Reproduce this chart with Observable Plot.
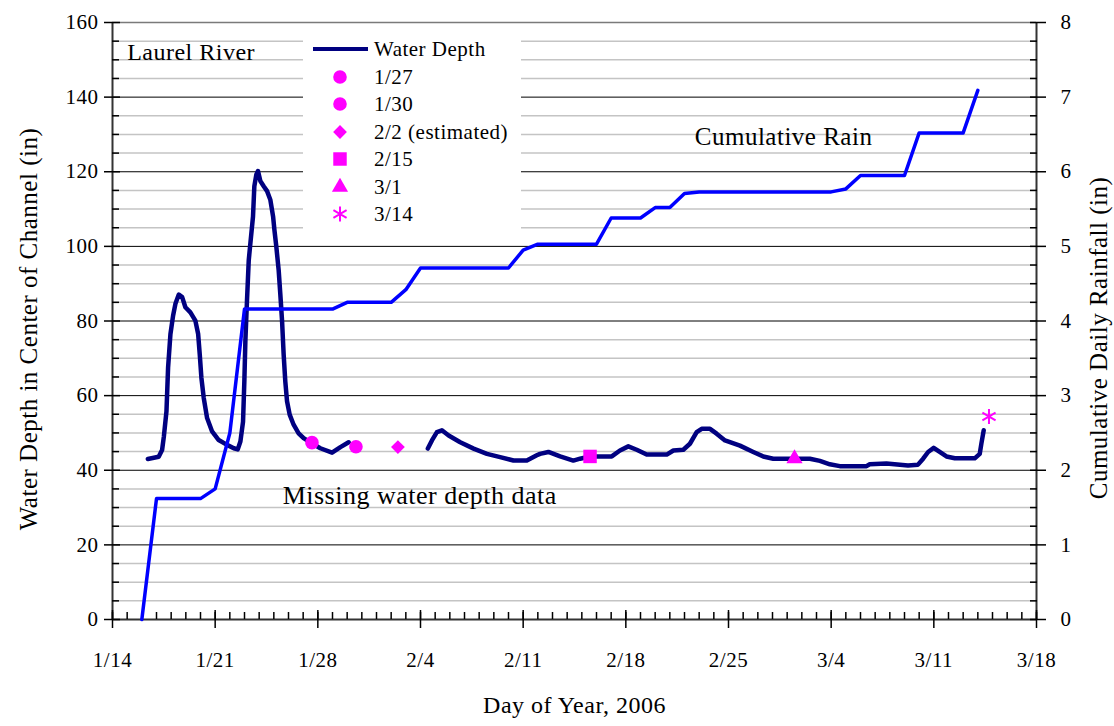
<!DOCTYPE html>
<html><head><meta charset="utf-8">
<script src="https://cdn.jsdelivr.net/npm/d3@7"></script>
<script src="https://cdn.jsdelivr.net/npm/@observablehq/plot@0.6"></script>
<style>
body{margin:0;background:#fff;}
#wrap{position:relative;width:1114px;height:726px;overflow:hidden;}
#legend{position:absolute;left:303px;top:27px;width:218px;height:208px;background:#fff;font-family:"Liberation Serif",serif;letter-spacing:0.5px;}
#legend .row{position:absolute;left:0;height:28px;width:218px;}
#legend .row svg{position:absolute;left:0;top:0;}
#legend .row span{position:absolute;left:71px;top:0;line-height:28px;font-size:21px;color:#000;white-space:nowrap;}
</style></head><body><div id="wrap"><div id="legend"></div></div>
<script>
// ---------- data (days counted from 1/14/2006) ----------
const depthDay = [2.41,3.15,3.38,3.5,3.68,3.79,3.95,4.13,4.29,4.52,4.75,4.97,5.31,5.65,5.84,5.95,6.06,6.22,6.45,6.79,7.24,7.81,8.27,8.54,8.72,8.9,8.99,9.06,9.17,9.29,9.4,9.58,9.67,9.81,9.92,10.08,10.31,10.54,10.76,10.95,11.04,11.17,11.33,11.44,11.56,11.67,11.78,11.9,12.08,12.35,12.69,13.03,13.6,14.17,14.97,15.54,16.1,
  16.2,
  21.5,21.78,22.12,22.46,22.92,23.71,24.62,25.53,26.43,27.34,28.25,28.93,29.15,29.72,30.52,31.42,31.88,32.56,34.04,34.6,35.17,35.74,36.42,37.79,38.24,38.92,39.37,39.83,40.17,40.74,41.19,41.76,42.78,43.69,44.37,45.05,46.53,47.55,48.23,48.91,49.59,51.41,51.63,52.77,54.24,54.92,55.27,55.61,55.99,56.4,56.86,57.43,58.79,59.13,59.24,59.4];
const depthValue = [43,43.6,45.4,49,55.8,67.5,76.5,81.4,84.6,87.1,86.4,83.7,82.3,80.1,76.5,71,64.8,59.4,54,50.4,48.1,46.8,45.9,45.6,47.7,53,63.9,74.7,85.5,96.3,100.8,108,116.1,119.3,120.2,117.5,116.1,114.8,112.5,108,104.4,99.9,93.6,87.3,80.1,71,63.9,58.5,54.9,52.2,49.9,48.6,47.2,45.9,44.7,46.2,47.5,
  NaN,
  45.8,48,50.2,50.7,49.3,47.5,45.8,44.4,43.5,42.6,42.6,44,44.4,44.9,43.7,42.6,43.1,43.7,43.7,45.3,46.4,45.5,44.2,44.2,45.3,45.5,47.1,50.2,51.1,51.1,49.8,48,46.6,44.9,43.7,43.1,43.1,43.1,42.5,41.6,41.1,41.1,41.6,41.8,41.3,41.5,43.1,44.9,46,44.9,43.7,43.2,43.2,44.4,47.1,50.7];

const rainDay   = [2,3,6,7,8,9,15,16,19,20,21,27,28,29,33,34,36,37,38,39,40,49,50,51,54,55,58,59];
const rainValue = [0,1.62,1.62,1.75,2.5,4.16,4.16,4.25,4.25,4.42,4.71,4.71,4.95,5.03,5.03,5.38,5.38,5.52,5.52,5.71,5.73,5.73,5.77,5.95,5.95,6.52,6.52,7.09];

const sampleLabel  = ["1/27","1/30","2/2 (estimated)","2/15","3/1","3/14"];
const sampleSymbol = ["circle","circle","diamond2","square","triangle","asterisk"];
const sampleDay    = [13.6,16.6,19.46,32.56,46.5,59.76];
const sampleValue  = [47.4,46.3,46.2,43.7,43.1,54.4];

const depthTicks = [0,20,40,60,80,100,120,140,160];
const rainTicks  = [0,1,2,3,4,5,6,7,8];

const noteText  = ["Laurel River","Cumulative Rain","Missing water depth data"];
const noteDay   = [1.0,39.7,11.6];
const noteValue = [152,129.2,33.2];

// ---------- helpers ----------
const t0 = Date.UTC(2006,0,14);
const toDate = d => new Date(t0 + d*864e5);
const rainScale = 20; // 1 in of rain on the right axis = 20 in of depth on the left axis
const depth = depthDay.map((d,i)=>({date:toDate(d), value:depthValue[i]}));
const rain = rainDay.map((d,i)=>({date:toDate(d), value:rainValue[i]*rainScale}));
const samples = sampleLabel.map((l,i)=>({label:l, symbol:sampleSymbol[i], date:toDate(sampleDay[i]), value:sampleValue[i]}));
const notes = noteText.map((t,i)=>({text:t, date:toDate(noteDay[i]), value:noteValue[i]}));

const major = depthTicks;
const minor = d3.range(0,161,5).filter(v=>v%20!==0);
const dayTicks = d3.range(0,64).map(toDate);
const weekTicks = d3.range(0,64,7).map(toDate);
const fmt = d => `${d.getUTCMonth()+1}/${d.getUTCDate()}`;
const MAG = "#ff00ff";
const symStyle = {circle:{r:6.8}, diamond2:{r:6.2}, square:{r:7.6}, triangle:{r:6.0}, asterisk:{r:7.2}};
const none = () => "";

const marks = [
  Plot.ruleY(minor,{stroke:"#c4c4c4", strokeWidth:1.5}),
  Plot.ruleY(major.filter(v=>v>0&&v<160),{stroke:"#000", strokeWidth:1}),
  Plot.ruleY([160],{stroke:"#7a7a7a", strokeWidth:1.5}),
  Plot.text([notes[0]],{x:"date", y:"value", text:"text", textAnchor:"start", fontSize:24, ariaLabel:"notebox"}),
  Plot.text([notes[1]],{x:"date", y:"value", text:"text", textAnchor:"start", fontSize:25, ariaLabel:"notebox"}),
  Plot.text([notes[2]],{x:"date", y:"value", text:"text", textAnchor:"start", fontSize:26}),
  Plot.ruleX([toDate(0)],{stroke:"#333", strokeWidth:2}),
  Plot.ruleX([toDate(63)],{stroke:"#333", strokeWidth:2}),
  Plot.ruleY([0],{stroke:"#333", strokeWidth:2}),
  Plot.axisY(major,{anchor:"left", tickSize:8, tickPadding:6, fontSize:21, label:null, strokeWidth:1.5}),
  Plot.axisY(major,{anchor:"left", tickSize:-8, tickFormat:none, label:null, strokeWidth:1.5}),
  Plot.axisY(minor,{anchor:"left", tickSize:-7, tickFormat:none, label:null, strokeWidth:1.5}),
  Plot.axisY(rainTicks.map(v=>v*rainScale),{anchor:"right", tickSize:9, tickPadding:15, tickFormat:d=>String(d/rainScale), fontSize:21, label:null, strokeWidth:1.5}),
  Plot.axisY(major,{anchor:"right", tickSize:-7, tickFormat:none, label:null, strokeWidth:1.5}),
  Plot.axisY(minor,{anchor:"right", tickSize:-7, tickFormat:none, label:null, strokeWidth:1.5}),
  Plot.axisX(weekTicks,{tickSize:9, tickPadding:24, tickFormat:fmt, fontSize:21, label:null, strokeWidth:1.5}),
  Plot.axisX(weekTicks,{tickSize:-9, tickFormat:none, label:null, strokeWidth:1.5}),
  Plot.axisX(dayTicks,{tickSize:-7, tickFormat:none, label:null, strokeWidth:1.5}),
  Plot.text(["Water Depth in Center of Channel (in)"],{text:d=>d, frameAnchor:"left", textAnchor:"middle", lineAnchor:"middle", dx:-84, dy:8, rotate:-90, fontSize:25}),
  Plot.text(["Cumulative Daily Rainfall (in)"],{text:d=>d, frameAnchor:"right", textAnchor:"middle", lineAnchor:"middle", dx:62, dy:17, rotate:-90, fontSize:25}),
  Plot.text(["Day of Year, 2006"],{text:d=>d, frameAnchor:"bottom", textAnchor:"middle", dy:93, fontSize:24}),
  Plot.line(depth,{x:"date", y:"value", stroke:"#000080", strokeWidth:4.5, strokeLinejoin:"round", strokeLinecap:"round"}),
  Plot.line(rain,{x:"date", y:"value", stroke:"#0000ff", strokeWidth:3.5}),
  ...samples.map(s => Plot.dot([s],{x:"date", y:"value", symbol:s.symbol, r:symStyle[s.symbol].r,
      ...(s.symbol==="asterisk" ? {stroke:MAG, strokeWidth:2, fill:"none"} : {fill:MAG, stroke:"none"})}))
];

const chart = Plot.plot({
  width:1114, height:726,
  marginLeft:112, marginRight:78, marginTop:22, marginBottom:107,
  style:{fontFamily:'"Liberation Serif", serif', color:"#000", background:"#fff", letterSpacing:"0.5px", overflow:"visible"},
  x:{type:"utc", domain:[toDate(0), toDate(63)]},
  y:{domain:[0,160]},
  marks
});
const wrap = document.getElementById("wrap");
wrap.insertBefore(chart, wrap.firstChild);

// white boxes behind the labelled notes
const svg = d3.select(chart);
const sr = chart.getBoundingClientRect();
svg.selectAll('g[aria-label="notebox"]').each(function(){
  const g = this;
  const r = g.getBoundingClientRect();
  const padX = 10, padY = 8;
  svg.insert("rect", () => g)
    .attr("x", r.left - sr.left - padX).attr("y", r.top - sr.top - padY)
    .attr("width", r.width + 2*padX).attr("height", r.height + 2*padY)
    .attr("fill", "#fff");
});

// legend
const legend = d3.select("#legend");
const rows = [{label:"Water Depth", symbol:"line"}, ...samples];
rows.forEach((row,i)=>{
  const div = legend.append("div").attr("class","row").style("top", (8 + i*27.5) + "px");
  const s = div.append("svg").attr("width",70).attr("height",28);
  if (row.symbol === "line") {
    s.append("line").attr("x1",10).attr("x2",65).attr("y1",14).attr("y2",14)
      .attr("stroke","#000080").attr("stroke-width",4);
  } else {
    const r = symStyle[row.symbol].r;
    const sym = {circle:d3.symbolCircle, diamond2:d3.symbolDiamond2, square:d3.symbolSquare, triangle:d3.symbolTriangle, asterisk:d3.symbolAsterisk}[row.symbol];
    const p = s.append("path").attr("transform","translate(37,14)").attr("d", d3.symbol(sym, Math.PI*r*r)());
    if (row.symbol === "asterisk") p.attr("fill","none").attr("stroke",MAG).attr("stroke-width",2);
    else p.attr("fill",MAG);
  }
  div.append("span").text(row.label);
});
</script>
</body></html>
